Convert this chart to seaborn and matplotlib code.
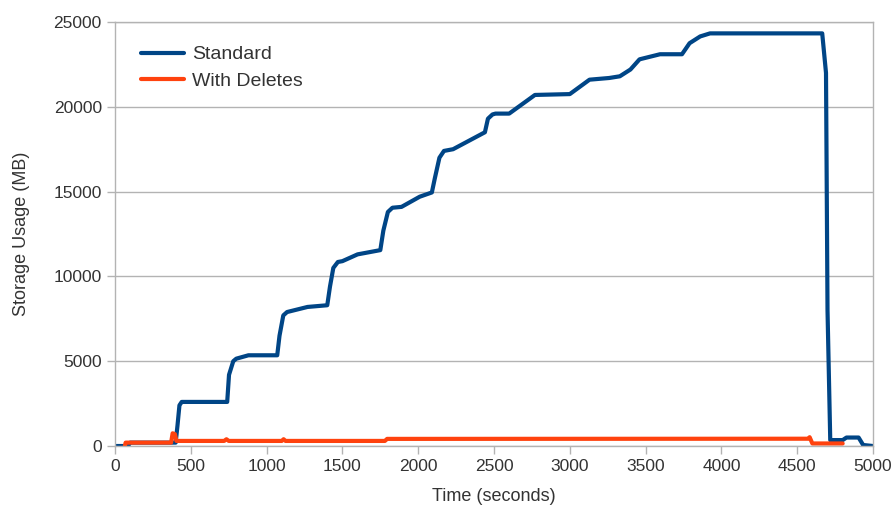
import matplotlib
matplotlib.use("Agg")
import matplotlib.pyplot as plt
import seaborn as sns
import pandas as pd

# ---- Data ----
std_time = [0, 85, 100, 400, 412, 425, 440, 740, 752, 780, 800, 880, 1070, 1085, 1110, 1135, 1270,
            1400, 1418, 1440, 1470, 1500, 1600, 1750, 1770, 1800, 1830, 1890, 2010, 2090, 2110,
            2140, 2170, 2230, 2440, 2460, 2490, 2510, 2600, 2770, 3000, 3130, 3260, 3330, 3400,
            3460, 3595, 3740, 3790, 3860, 3925, 4665, 4690, 4700, 4718, 4800, 4825, 4905, 4935, 5000]
std_mb = [0, 0, 200, 200, 1200, 2400, 2600, 2600, 4200, 5000, 5150, 5350, 5350, 6500, 7700, 7900,
          8200, 8300, 9400, 10500, 10850, 10900, 11300, 11550, 12700, 13800, 14050, 14100, 14700,
          14950, 15800, 17000, 17400, 17500, 18500, 19300, 19550, 19600, 19600, 20700, 20750,
          21600, 21700, 21800, 22200, 22800, 23100, 23100, 23750, 24150, 24330, 24330, 22000,
          8000, 350, 350, 500, 500, 60, 0]

del_time = [65, 70, 370, 380, 395, 405, 720, 735, 750, 1100, 1112, 1125, 1780, 1795, 4570,
            4582, 4600, 4800]
del_mb = [0, 200, 200, 750, 700, 300, 300, 400, 300, 300, 400, 300, 300, 420, 430,
          520, 150, 150]

std = pd.DataFrame({"Time (seconds)": std_time, "Storage Usage (MB)": std_mb, "series": "Standard"})
dele = pd.DataFrame({"Time (seconds)": del_time, "Storage Usage (MB)": del_mb, "series": "With Deletes"})
df = pd.concat([std, dele], ignore_index=True)

# ---- Plot ----
sns.set_style("white")
plt.rcParams["font.family"] = ["Liberation Sans", "DejaVu Sans"]

fig = plt.figure(figsize=(8.93, 5.05), dpi=100)
ax = fig.add_axes([0.1288, 0.1168, 0.8488, 0.8396])

sns.lineplot(data=df, x="Time (seconds)", y="Storage Usage (MB)", hue="series",
             palette={"Standard": "#004586", "With Deletes": "#ff420e"},
             linewidth=3, sort=False, estimator=None, ax=ax)

ax.set_xlim(0, 5000)
ax.set_ylim(0, 25000)
ax.set_xticks(range(0, 5001, 500))
ax.set_yticks(range(0, 25001, 5000))
ax.yaxis.grid(True, color="#b3b3b3", linewidth=1)
ax.set_axisbelow(True)
for s in ax.spines.values():
    s.set_color("#b3b3b3")
    s.set_linewidth(1)
ax.tick_params(axis="both", length=6, width=1, color="#b3b3b3", labelsize=12.5,
               labelcolor="#333333", direction="out", bottom=True, left=True)
ax.set_xlabel("Time (seconds)", fontsize=13, color="#333333", labelpad=10)
ax.set_ylabel("Storage Usage (MB)", fontsize=13, color="#333333", labelpad=17)

leg = ax.legend(loc="upper left", bbox_to_anchor=(0.011, 0.985), frameon=False,
                fontsize=14, handlelength=2.2, handletextpad=0.45, labelspacing=0.45)
for t in leg.get_texts():
    t.set_color("#333333")

fig.savefig("out.png", dpi=100)
